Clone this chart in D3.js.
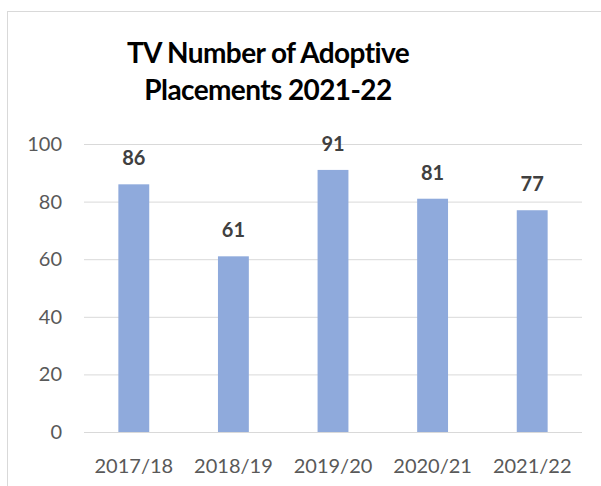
<!DOCTYPE html>
<html>
<head>
<meta charset="utf-8">
<script src="https://cdn.jsdelivr.net/npm/d3@7"></script>
<style>
  body { margin: 0; background: #fff; }
  svg { display: block; font-family: Lato, "Open Sans", sans-serif; font-variant-ligatures: none; }
</style>
</head>
<body>
<svg id="chart" width="601" height="486"></svg>
<script>
// data
var categories = ["2017/18", "2018/19", "2019/20", "2020/21", "2021/22"];
var placements = [86, 61, 91, 81, 77];
var yTicks = [0, 20, 40, 60, 80, 100];
var titleLines = ["TV Number of Adoptive", "Placements 2021-22"];

var svg = d3.select("#chart");
var margin = { top: 144, right: 19, bottom: 54, left: 84 };
var width = 601 - margin.left - margin.right;
var height = 486 - margin.top - margin.bottom;

// chart area border (runs off right and bottom)
svg.append("rect")
  .attr("x", 7.5).attr("y", 11.5)
  .attr("width", 700).attr("height", 600)
  .attr("fill", "none")
  .attr("stroke", "#d9d9d9");

svg.append("text")
  .attr("text-anchor", "middle")
  .attr("font-weight", "bold")
  .attr("font-size", 28)
  .attr("letter-spacing", -0.6)
  .attr("fill", "#000")
  .selectAll("tspan")
  .data(titleLines)
  .enter().append("tspan")
  .attr("x", 268)
  .attr("y", function (d, i) { return 63 + i * 37; })
  .text(function (d) { return d; });

var g = svg.append("g").attr("transform", "translate(" + margin.left + "," + margin.top + ")");

var x = d3.scaleBand().domain(categories).range([0, width])
  .paddingInner(0.69).paddingOuter(0.345);
var y = d3.scaleLinear().domain([0, 100]).range([height, 0]);

var yAxis = g.append("g")
  .call(d3.axisLeft(y).tickValues(yTicks).tickSize(-width).tickPadding(22));
yAxis.select(".domain").remove();
yAxis.selectAll(".tick line").attr("stroke", "#d9d9d9");
yAxis.selectAll(".tick text").attr("fill", "#595959").attr("font-size", 20)
  .style("font-family", "Lato, sans-serif");

var xAxis = g.append("g")
  .attr("transform", "translate(0," + height + ")")
  .call(d3.axisBottom(x).tickSize(0).tickPadding(27));
xAxis.select(".domain").remove();
xAxis.selectAll(".tick text").attr("fill", "#595959").attr("font-size", 20)
  .style("font-family", "Lato, sans-serif");

var data = categories.map(function (c, i) { return { cat: c, val: placements[i] }; });

g.selectAll(".bar")
  .data(data)
  .enter().append("rect")
  .attr("class", "bar")
  .attr("x", function (d) { return x(d.cat); })
  .attr("y", function (d) { return y(d.val); })
  .attr("width", x.bandwidth())
  .attr("height", function (d) { return height - y(d.val); })
  .attr("fill", "#8faadc");

g.selectAll(".label")
  .data(data)
  .enter().append("text")
  .attr("class", "label")
  .attr("x", function (d) { return x(d.cat) + x.bandwidth() / 2; })
  .attr("y", function (d) { return y(d.val) - 19; })
  .attr("text-anchor", "middle")
  .attr("font-weight", "bold")
  .attr("font-size", 20)
  .attr("fill", "#404040")
  .text(function (d) { return d.val; });
</script>
</body>
</html>
